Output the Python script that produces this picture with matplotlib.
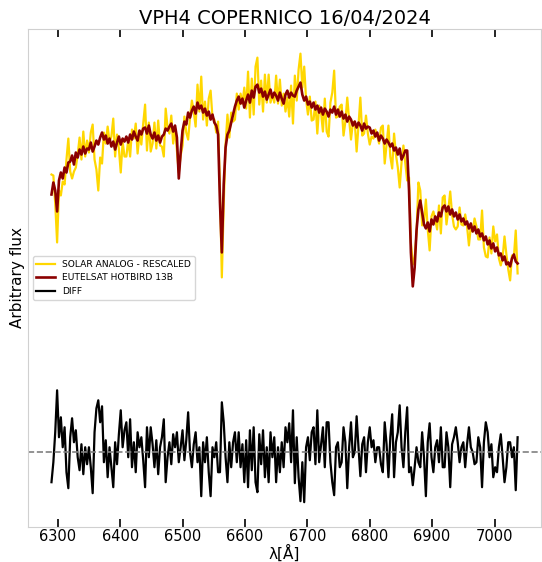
import numpy as np
import matplotlib.pyplot as plt

# wavelength grid of the spectra (Angstrom)
wavelength = np.arange(6290, 7038, 3)

# EUTELSAT HOTBIRD 13B spectrum (arbitrary units)
eutelsat = [
    258, 270, 262, 241, 272, 280, 274, 285, 280, 290,
    291, 297, 288, 300, 295, 303, 298, 306, 299, 304,
    303, 310, 301, 306, 312, 308, 315, 320, 313, 317,
    309, 314, 306, 311, 303, 310, 316, 308, 314, 311,
    316, 310, 318, 313, 321, 316, 312, 322, 318, 324,
    325, 319, 327, 318, 314, 320, 312, 317, 310, 316,
    318, 324, 322, 326, 329, 321, 327, 315, 274, 300,
    322, 331, 328, 340, 335, 342, 346, 339, 350, 344,
    347, 340, 344, 337, 341, 333, 338, 330, 327, 318,
    250, 200, 268, 305, 318, 322, 330, 338, 346, 352,
    356, 349, 354, 345, 352, 358, 350, 362, 355, 366,
    368, 360, 364, 356, 361, 353, 358, 363, 355, 360,
    357, 352, 360, 354, 349, 358, 362, 355, 360, 357,
    356, 362, 366, 370, 358, 352, 356, 348, 351, 345,
    350, 343, 347, 340, 345, 338, 344, 341, 336, 343,
    340, 346, 338, 343, 336, 341, 334, 338, 331, 336,
    333, 327, 331, 325, 330, 327, 322, 329, 324, 326,
    325, 319, 322, 316, 320, 312, 317, 314, 309, 313,
    310, 306, 309, 302, 305, 298, 304, 293, 297, 302,
    302, 262, 200, 166, 185, 222, 243, 252, 240, 228,
    224, 230, 221, 233, 228, 236, 231, 240, 236, 245,
    247, 241, 246, 238, 243, 236, 240, 233, 238, 231,
    234, 228, 231, 224, 229, 221, 226, 219, 223, 216,
    219, 212, 216, 208, 212, 204, 209, 201, 205, 197,
    199, 192, 196, 188, 190, 186, 194, 198, 191, 189,
]

# solar analog, rescaled
solar = [
    278, 277, 249, 210, 262, 257, 271, 268, 293, 314,
    281, 274, 281, 285, 298, 315, 293, 321, 296, 312,
    300, 320, 328, 293, 283, 262, 295, 289, 320, 309,
    326, 311, 316, 334, 296, 318, 304, 280, 311, 296,
    296, 313, 296, 323, 314, 329, 299, 319, 308, 329,
    348, 302, 330, 301, 309, 330, 304, 332, 307, 306,
    296, 344, 325, 319, 337, 309, 324, 302, 280, 297,
    307, 336, 320, 313, 335, 352, 341, 326, 368, 341,
    376, 333, 351, 327, 354, 362, 335, 333, 320, 331,
    263, 175, 248, 308, 338, 315, 340, 331, 333, 359,
    343, 359, 349, 365, 344, 381, 335, 374, 338, 386,
    395, 348, 372, 341, 378, 350, 378, 350, 358, 350,
    377, 349, 373, 347, 359, 341, 355, 336, 367, 329,
    377, 352, 383, 399, 365, 386, 353, 338, 356, 332,
    333, 351, 319, 347, 340, 321, 354, 321, 316, 350,
    360, 382, 335, 336, 346, 348, 317, 331, 355, 333,
    313, 330, 331, 301, 327, 355, 317, 319, 337, 319,
    308, 316, 314, 323, 317, 309, 325, 327, 289, 308,
    327, 296, 284, 319, 298, 285, 265, 290, 307, 289,
    272, 275, 210, 188, 195, 219, 270, 262, 227, 231,
    253, 223, 202, 236, 241, 233, 223, 247, 219, 255,
    257, 228, 243, 261, 238, 226, 223, 226, 245, 228,
    227, 238, 226, 207, 226, 221, 234, 226, 213, 213,
    242, 205, 196, 195, 215, 199, 226, 211, 218, 194,
    187, 195, 216, 198, 183, 172, 197, 195, 222, 179,
]

# residuals (plotted around zero)
diff = [
    -30, -10, 20, 62, 15, 35, 5, 25, -20, -36,
    15, 34, 10, 22, -5, -18, 8, -22, 5, -12,
    5, -15, -41, 20, 44, 52, 30, 46, -10, 12,
    -25, 5, -15, -35, 10, -12, 18, 42, 5, 22,
    30, -5, 33, -15, 10, -20, 20, 5, 15, -8,
    -35, 25, -5, 25, 8, -15, 12, -22, 5, 15,
    33, -30, -5, 10, -12, 18, 5, 20, -10, 5,
    22, -8, 12, 40, 0, -15, 8, 20, -10, 5,
    -44, 10, -10, 15, -20, -44, 5, -5, 10, -20,
    -20, 50, 30, -5, -30, 10, -15, 10, 20, -10,
    20, -15, 8, -30, 12, -35, 22, -18, 25, -30,
    -40, 18, -12, 22, -25, 5, -30, 20, -5, 15,
    -30, 5, -20, 10, -15, 25, 10, 29, -10, 42,
    -31, 15, -25, -49, -10, -50, 5, 15, -8, 20,
    25, -12, 42, -10, 8, 25, -15, 30, 30, -10,
    -30, -43, 5, 10, -15, -10, 25, 10, -36, 5,
    30, -5, 0, 36, 5, -24, 8, 15, -20, 10,
    25, 5, 12, -10, 5, 5, -12, -20, 30, 8,
    -25, 15, 38, -25, 10, 20, 47, 5, -15, 20,
    45, -20, -15, -33, -15, 5, -10, -15, 20, -5,
    -44, 10, 29, -5, -20, 5, 12, -10, 25, -15,
    -15, 20, 5, -35, 8, 15, 25, 10, -10, 5,
    10, -15, 8, 25, 5, 0, -12, -10, 15, 5,
    -35, 10, 30, 20, -5, 8, -25, -15, -20, 5,
    18, -5, -30, -15, 10, 10, -5, 5, -38, 15,
]

fig = plt.figure(figsize=(5.42, 5.62), dpi=100)
ax = fig.add_axes([0.052, 0.062, 0.946, 0.887])

ax.plot(wavelength, solar, color='gold', lw=1.6, label='SOLAR ANALOG - RESCALED')
ax.plot(wavelength, eutelsat, color='darkred', lw=1.9, label='EUTELSAT HOTBIRD 13B')
ax.plot(wavelength, diff, color='black', lw=1.6, label='DIFF')
ax.axhline(0, color='gray', ls='--', lw=1.2)

ax.set_ylim(-75, 424)
ax.set_yticks([])
ax.tick_params(axis='x', direction='in', top=True, labelsize=10.5,
               length=6, width=1.2, pad=1.5)
for spine in ax.spines.values():
    spine.set_color('#d0d0d0')

ax.set_title('VPH4 COPERNICO 16/04/2024', fontsize=14, pad=3)
ax.set_xlabel('λ[Å]', fontsize=11, labelpad=0)
ax.set_ylabel('Arbitrary flux', fontsize=11, labelpad=2)
ax.legend(loc='center left', fontsize=6.6)

fig.savefig('out.png', dpi=100)
